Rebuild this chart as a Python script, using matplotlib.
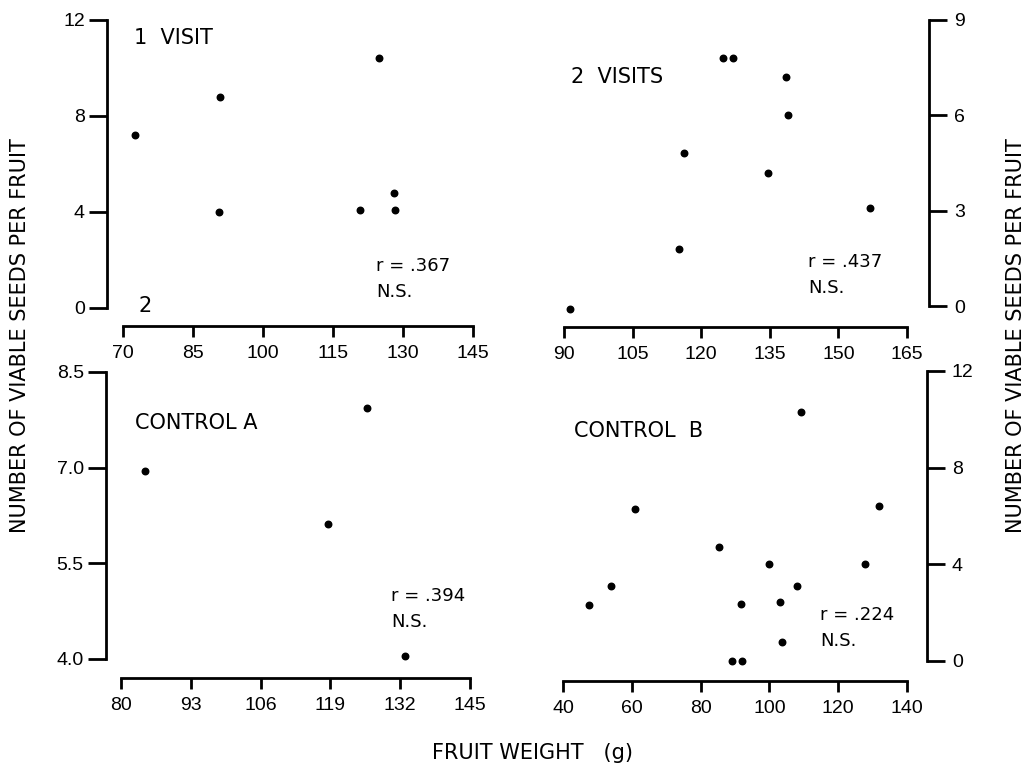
import matplotlib
matplotlib.use('Agg')
import matplotlib.pyplot as plt

plt.rcParams['font.family'] = ['Liberation Sans', 'DejaVu Sans']

# 1 visit
visit1_x = [72.6, 90.8, 90.6, 124.8, 120.8, 128.1, 128.3]
visit1_y = [7.2, 8.8, 4.0, 10.4, 4.1, 4.8, 4.1]
visit1_xticks = [70, 85, 100, 115, 130, 145]
visit1_yticks = [0, 4, 8, 12]

# 2 visits
visit2_x = [124.8, 127.0, 138.5, 139.0, 116.3, 134.6, 156.9, 115.1, 91.3]
visit2_y = [7.8, 7.8, 7.2, 6.0, 4.8, 4.2, 3.1, 1.8, -0.1]
visit2_xticks = [90, 105, 120, 135, 150, 165]
visit2_yticks = [0, 3, 6, 9]

# control A
ctrlA_x = [84.5, 125.9, 118.5, 132.8]
ctrlA_y = [6.95, 7.94, 6.12, 4.04]
ctrlA_xticks = [80, 93, 106, 119, 132, 145]
ctrlA_yticks = [4.0, 5.5, 7.0, 8.5]

# control B
ctrlB_x = [109.2, 60.9, 131.8, 85.3, 99.8, 127.9, 53.9, 107.9, 47.7, 91.7,
           103.2, 103.6, 89.2, 91.9]
ctrlB_y = [10.3, 6.3, 6.4, 4.7, 4.0, 4.0, 3.1, 3.1, 2.3, 2.35,
           2.45, 0.8, 0.0, 0.0]
ctrlB_xticks = [40, 60, 80, 100, 120, 140]
ctrlB_yticks = [0, 4, 8, 12]

W, H = 1031, 769
fig = plt.figure(figsize=(W / 100, H / 100), dpi=100)


def px_axes(l, r, t, b):
    return fig.add_axes([l / W, 1 - b / H, (r - l) / W, (b - t) / H])


def style(ax, xticks, yticks, side, yfmt):
    for s in ['top', 'right', 'left', 'bottom']:
        ax.spines[s].set_visible(False)
    ax.spines[side].set_visible(True)
    ax.spines['bottom'].set_visible(True)
    ax.spines[side].set_bounds(yticks[0], yticks[-1])
    ax.spines['bottom'].set_bounds(xticks[0], xticks[-1])
    ax.spines[side].set_linewidth(2)
    ax.spines['bottom'].set_linewidth(2)
    ax.set_xticks(xticks)
    ax.set_yticks(yticks)
    ax.set_xticklabels([str(v) for v in xticks], family='Liberation Sans')
    ax.set_yticklabels([yfmt.format(v) for v in yticks], family='Liberation Sans')
    ax.tick_params(axis='x', direction='out', length=8, width=2, pad=6,
                   labelsize=14)
    ax.tick_params(axis='y', direction='out', length=13, width=2, pad=3,
                   labelsize=14)
    if side == 'right':
        ax.yaxis.tick_right()
        ax.tick_params(axis='y', pad=5)
    ax.patch.set_visible(False)


def label(ax, x, y, s):
    ax.text(x, y, s, fontsize=15, family='DejaVu Sans', va='center')


def note(ax, x, y, s):
    ax.text(x, y, s, fontsize=13, family='DejaVu Sans', va='center',
            linespacing=1.55)


# top left
ax1 = px_axes(107, 473, 20, 326)
ax1.scatter(visit1_x, visit1_y, s=22, color='black', zorder=3)
ax1.set_xlim(66.6, 145)
ax1.set_ylim(-0.75, 12)
style(ax1, visit1_xticks, visit1_yticks, 'left', '{:g}')
label(ax1, 72.3, 11.25, '1  VISIT')
label(ax1, 73.4, 0.1, '2')
note(ax1, 124.2, 1.2, 'r = .367\nN.S.')

# top right
ax2 = px_axes(564, 929, 20, 327)
ax2.scatter(visit2_x, visit2_y, s=22, color='black', zorder=3)
ax2.set_xlim(90, 169.8)
ax2.set_ylim(-0.66, 9)
style(ax2, visit2_xticks, visit2_yticks, 'right', '{:g}')
label(ax2, 91.6, 7.2, '2  VISITS')
note(ax2, 143.3, 0.98, 'r = .437\nN.S.')

# bottom left
ax3 = px_axes(106, 470, 372, 678)
ax3.scatter(ctrlA_x, ctrlA_y, s=22, color='black', zorder=3)
ax3.set_xlim(77.2, 145)
ax3.set_ylim(3.70, 8.5)
style(ax3, ctrlA_xticks, ctrlA_yticks, 'left', '{:.1f}')
label(ax3, 82.6, 7.7, 'CONTROL A')
note(ax3, 130.3, 4.78, 'r = .394\nN.S.')

# bottom right
ax4 = px_axes(563, 927, 371, 681)
ax4.scatter(ctrlB_x, ctrlB_y, s=22, color='black', zorder=3)
ax4.set_xlim(40, 145.8)
ax4.set_ylim(-0.83, 12)
style(ax4, ctrlB_xticks, ctrlB_yticks, 'right', '{:g}')
label(ax4, 43.2, 9.5, 'CONTROL  B')
note(ax4, 114.8, 1.35, 'r = .224\nN.S.')

ylab = 'NUMBER OF VIABLE SEEDS PER FRUIT'
fig.text(20 / W, 1 - 336 / H, ylab, rotation=90, fontsize=15,
         family='DejaVu Sans', ha='center', va='center')
fig.text(1016 / W, 1 - 336 / H, ylab, rotation=90, fontsize=15,
         family='DejaVu Sans', ha='center', va='center')
fig.text(532 / W, 1 - 753 / H, 'FRUIT WEIGHT   (g)', fontsize=15,
         family='DejaVu Sans', ha='center', va='center')

fig.savefig('out.png', dpi=100)
